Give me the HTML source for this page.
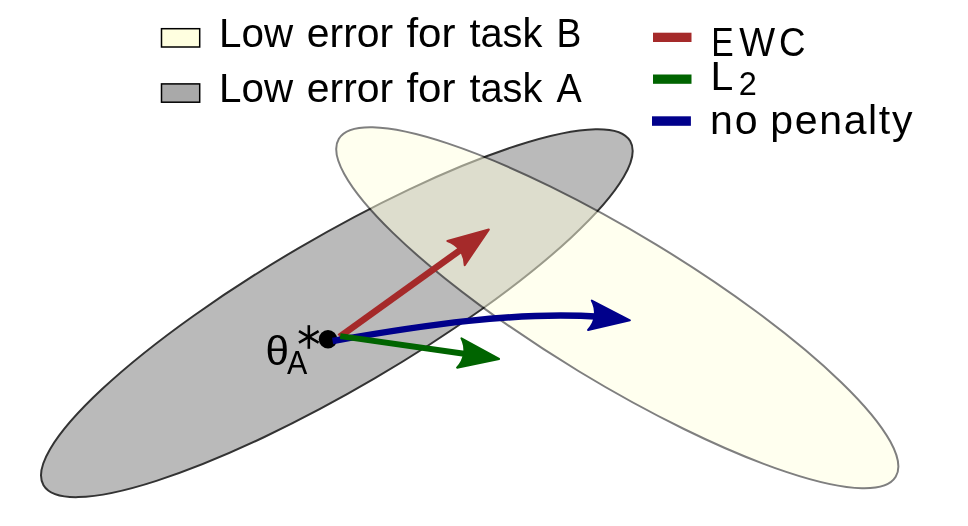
<!DOCTYPE html>
<html><head><meta charset="utf-8">
<style>
html,body{margin:0;padding:0;background:#fff;width:968px;height:526px;overflow:hidden}
svg{display:block;will-change:transform}
text{font-family:"Liberation Sans",sans-serif;fill:#000}
</style></head>
<body>
<svg width="968" height="526" viewBox="0 0 968 526">
<!-- task A ellipse -->
<ellipse cx="336.84" cy="313.15" rx="340.1" ry="75.44" transform="rotate(-30.4 336.84 313.15)" fill="#a9a9a9" stroke="#000" stroke-width="2" opacity="0.8"/>
<!-- task B ellipse -->
<ellipse cx="617.29" cy="307.79" rx="325.69" ry="74.23" transform="rotate(31.26 617.29 307.79)" fill="#ffffe0" stroke="#000" stroke-width="2" opacity="0.5"/>

<!-- legend -->
<rect x="161.5" y="28.7" width="38.2" height="18.3" fill="#ffffe0" stroke="#000" stroke-width="1.5"/>
<rect x="161.5" y="83.9" width="38.2" height="18.3" fill="#a9a9a9" stroke="#000" stroke-width="1.5"/>
<text transform="translate(219.05 47.3) scale(0.985 1)" font-size="41">Low</text>
<text transform="translate(306.80 47.3) scale(0.998 1)" font-size="41">error</text>
<text transform="translate(406.40 47.3) scale(1.026 1)" font-size="41">for</text>
<text transform="translate(469.40 47.3) scale(0.970 1)" font-size="41">task</text>
<text transform="translate(556.60 47.3) scale(0.908 1)" font-size="41">B</text>
<text transform="translate(219.05 102.3) scale(0.985 1)" font-size="41">Low</text>
<text transform="translate(306.80 102.3) scale(0.998 1)" font-size="41">error</text>
<text transform="translate(406.40 102.3) scale(1.026 1)" font-size="41">for</text>
<text transform="translate(469.40 102.3) scale(0.970 1)" font-size="41">task</text>
<text transform="translate(556.50 102.3) scale(0.922 1)" font-size="41">A</text>
<rect x="653" y="32.7" width="38.5" height="9.3" fill="#a52a2a"/>
<rect x="653" y="74.5" width="38.5" height="9.3" fill="#006400"/>
<rect x="652" y="116.3" width="38.9" height="9.5" fill="#00008b"/>
<text transform="translate(711.30 55.5) scale(0.820 1)" font-size="41">E</text>
<text transform="translate(739.20 55.5) scale(0.927 1)" font-size="41">W</text>
<text transform="translate(779.00 55.5) scale(0.896 1)" font-size="41">C</text>
<text x="710.60" y="90.3" font-size="41">L</text>
<text transform="translate(738.80 95.4) scale(0.975 1)" font-size="33.3">2</text>
<text x="709.90" y="134.1" font-size="41" letter-spacing="2.0">no</text>
<text x="770.30" y="134.1" font-size="41" letter-spacing="1.65">penalty</text>

<!-- dot -->
<circle cx="328" cy="339.3" r="9.2" fill="#000"/>
<!-- red -->
<line x1="339.5" y1="336.9" x2="464.43" y2="247.09" stroke="#a52a2a" stroke-width="6.6"/>
<path d="M0,0L-40.30,-14.82C-33.86,-6.07 -33.90,5.90 -40.30,14.82Z" transform="translate(488.79 229.58) rotate(-35.7)" fill="#a52a2a" stroke="#a52a2a" stroke-width="2" stroke-linejoin="round"/>
<!-- blue -->
<path d="M332.6,341.0 C420.0,325.6 518.7,310.8 600.0,316.85" fill="none" stroke="#00008b" stroke-width="6.5"/>
<path d="M0,0L-40.30,-14.82C-33.86,-6.07 -33.90,5.90 -40.30,14.82Z" transform="translate(629.91 320.27) rotate(7.2)" fill="#00008b" stroke="#00008b" stroke-width="2" stroke-linejoin="round"/>
<!-- green -->
<line x1="340.2" y1="336.1" x2="469.44" y2="354.52" stroke="#006400" stroke-width="6.0"/>
<path d="M0,0L-40.30,-14.82C-33.86,-6.07 -33.90,5.90 -40.30,14.82Z" transform="translate(499.11 358.95) rotate(8.5)" fill="#006400" stroke="#006400" stroke-width="2" stroke-linejoin="round"/>

<!-- theta label -->
<text transform="translate(265.50 364.7) scale(1.030 1)" font-size="41">θ</text>
<text transform="translate(287.10 374) scale(0.930 1)" font-size="32.7">A</text>
<g stroke="#000" stroke-width="2.6">
<line x1="308.8" y1="325.2" x2="308.8" y2="348.8"/>
<line x1="299" y1="331.1" x2="318.6" y2="342.7"/>
<line x1="299" y1="342.7" x2="318.6" y2="331.1"/>
</g>
</svg>
</body></html>
